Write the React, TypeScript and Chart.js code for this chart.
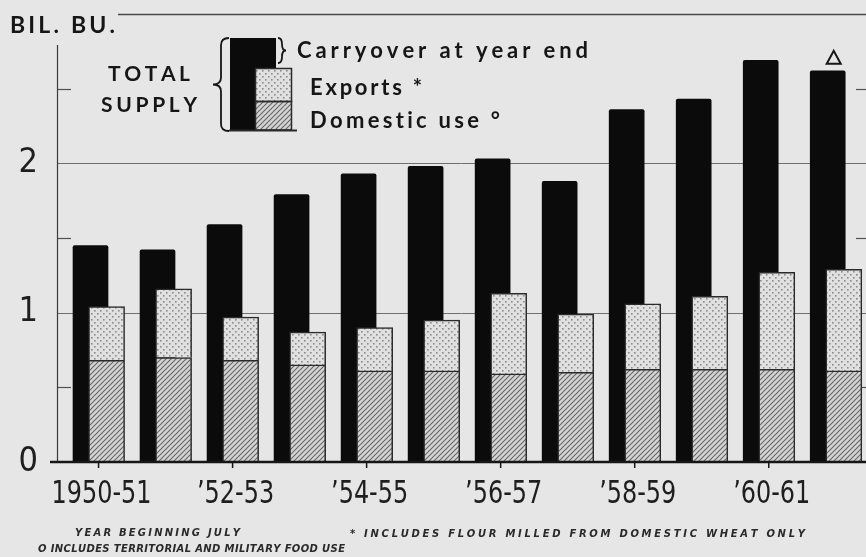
import React, { useEffect, useRef } from 'react';
import { Chart, registerables } from 'chart.js';

Chart.register(...registerables);

// ---- Data (billion bushels), year beginning July ----
const years = [
  '1950-51', '1951-52', '1952-53', '1953-54', '1954-55', '1955-56',
  '1956-57', '1957-58', '1958-59', '1959-60', '1960-61', '1961-62',
];
const totalSupply = [1.45, 1.42, 1.59, 1.79, 1.93, 1.98, 2.03, 1.88, 2.36, 2.43, 2.69, 2.62];
const domesticUse = [0.68, 0.70, 0.68, 0.65, 0.61, 0.61, 0.59, 0.60, 0.62, 0.62, 0.62, 0.61];
const exportsData = [0.36, 0.46, 0.29, 0.22, 0.29, 0.34, 0.54, 0.39, 0.44, 0.49, 0.65, 0.68];
const xTickLabels = ['1950-51', '\u201952-53', '\u201954-55', '\u201956-57', '\u201958-59', '\u201960-61'];
const xTickIndexes = [0, 2, 4, 6, 8, 10];
const yTickLabels = [0, 1, 2];
const gridValues = [1, 2];
const minorValues = [0.5, 1.5, 2.5];
const topValue = 3;

const INK = '#161616';
const BG = '#e6e6e6';
const COND = '"DejaVu Sans Condensed", "DejaVu Sans", sans-serif';

function makeDots(): CanvasPattern | string {
  const c = document.createElement('canvas');
  c.width = 6; c.height = 6;
  const g = c.getContext('2d');
  if (!g) return '#d8d8d8';
  g.fillStyle = '#e0e0e0';
  g.fillRect(0, 0, 6, 6);
  g.fillStyle = '#8c8c8c';
  g.fillRect(1, 1, 1.6, 1.6);
  g.fillRect(4, 4, 1.6, 1.6);
  return g.createPattern(c, 'repeat') || '#d8d8d8';
}

function makeHatch(): CanvasPattern | string {
  const s = 5;
  const c = document.createElement('canvas');
  c.width = s; c.height = s;
  const g = c.getContext('2d');
  if (!g) return '#b8b8b8';
  g.fillStyle = '#d4d4d4';
  g.fillRect(0, 0, s, s);
  g.strokeStyle = '#6a6a6a';
  g.lineWidth = 1.2;
  g.beginPath();
  g.moveTo(0, s); g.lineTo(s, 0);
  g.moveTo(-1, 1); g.lineTo(1, -1);
  g.moveTo(s - 1, s + 1); g.lineTo(s + 1, s - 1);
  g.stroke();
  return g.createPattern(c, 'repeat') || '#b8b8b8';
}

function spacedText(ctx: CanvasRenderingContext2D, text: string, x: number, y: number, width: number) {
  const chars = Array.from(text);
  const widths = chars.map((ch) => ctx.measureText(ch).width);
  const natural = widths.reduce((a, b) => a + b, 0);
  const gap = chars.length > 1 ? (width - natural) / (chars.length - 1) : 0;
  let cx = x;
  chars.forEach((ch, i) => {
    ctx.fillText(ch, cx, y);
    cx += widths[i] + gap;
  });
}

function brace(ctx: CanvasRenderingContext2D, tipX: number, endX: number, top: number, bottom: number) {
  const xm = (tipX + endX) / 2;
  const mid = (top + bottom) / 2;
  const r = Math.min(7, (bottom - top) / 4);
  ctx.beginPath();
  ctx.moveTo(endX, top);
  ctx.quadraticCurveTo(xm, top, xm, top + r);
  ctx.lineTo(xm, mid - r);
  ctx.quadraticCurveTo(xm, mid, tipX, mid);
  ctx.quadraticCurveTo(xm, mid, xm, mid + r);
  ctx.lineTo(xm, bottom - r);
  ctx.quadraticCurveTo(xm, bottom, endX, bottom);
  ctx.stroke();
}

const OFFSET = 0.12;
const RIGHT_EDGE = 866;

export default function App() {
  const ref = useRef<HTMLCanvasElement | null>(null);

  useEffect(() => {
    const canvas = ref.current;
    if (!canvas) return;
    const dots = makeDots();
    const hatch = makeHatch();

    const decor = {
      id: 'decor',
      beforeDatasetsDraw(chart: any) {
        const { ctx, chartArea, scales } = chart;
        const y = scales.y;
        const L = chartArea.left;
        ctx.save();
        ctx.strokeStyle = '#707070';
        ctx.lineWidth = 1;
        gridValues.forEach((v) => {
          const py = Math.round(y.getPixelForValue(v)) + 0.5;
          ctx.beginPath(); ctx.moveTo(L, py); ctx.lineTo(RIGHT_EDGE, py); ctx.stroke();
        });
        ctx.strokeStyle = '#4a4a4a';
        ctx.lineWidth = 1.5;
        const pt = y.getPixelForValue(topValue) + 0.5;
        ctx.beginPath(); ctx.moveTo(118, pt); ctx.lineTo(RIGHT_EDGE, pt); ctx.stroke();
        ctx.strokeStyle = '#505050';
        ctx.lineWidth = 1.2;
        minorValues.forEach((v) => {
          const py = Math.round(y.getPixelForValue(v)) + 0.5;
          ctx.beginPath(); ctx.moveTo(L, py); ctx.lineTo(L + 14, py); ctx.stroke();
          ctx.beginPath(); ctx.moveTo(RIGHT_EDGE - 10, py); ctx.lineTo(RIGHT_EDGE, py); ctx.stroke();
        });
        ctx.strokeStyle = '#3a3a3a';
        ctx.lineWidth = 1.2;
        ctx.beginPath(); ctx.moveTo(L + 0.5, 45); ctx.lineTo(L + 0.5, y.getPixelForValue(0)); ctx.stroke();
        ctx.restore();
      },
      afterDatasetsDraw(chart: any) {
        const { ctx, scales } = chart;
        const x = scales.x;
        const y = scales.y;
        const base = y.getPixelForValue(0);
        ctx.save();
        // baseline
        ctx.strokeStyle = INK;
        ctx.lineWidth = 2.5;
        ctx.beginPath(); ctx.moveTo(50, base); ctx.lineTo(RIGHT_EDGE, base); ctx.stroke();
        // bottom ticks at labelled years
        ctx.lineWidth = 1.5;
        xTickIndexes.forEach((i) => {
          const px = x.getPixelForValue(i);
          ctx.beginPath(); ctx.moveTo(px, base); ctx.lineTo(px, base + 6); ctx.stroke();
        });
        // x labels (condensed, positioned by the x scale)
        ctx.fillStyle = '#1e1e1e';
        ctx.font = '32px ' + COND;
        ctx.textAlign = 'center';
        ctx.textBaseline = 'alphabetic';
        const squeeze = Math.min(1, 100 / ctx.measureText(xTickLabels[0]).width);
        xTickIndexes.forEach((i, k) => {
          const px = x.getPixelForValue(i) + 3;
          ctx.save();
          ctx.translate(px, base + 41);
          ctx.scale(squeeze, 1);
          ctx.fillText(xTickLabels[k], 0, 0);
          ctx.restore();
        });
        ctx.textAlign = 'left';

        // triangle above last bar
        const last = totalSupply.length - 1;
        const tx = x.getPixelForValue(last - OFFSET) + 6;
        const ty = y.getPixelForValue(totalSupply[last]) - 7;
        ctx.strokeStyle = INK;
        ctx.lineWidth = 2;
        ctx.beginPath();
        ctx.moveTo(tx - 7, ty); ctx.lineTo(tx + 7, ty); ctx.lineTo(tx, ty - 13); ctx.closePath();
        ctx.stroke();

        // title
        ctx.fillStyle = INK;
        ctx.font = 'bold 23px Lato, "DejaVu Sans", sans-serif';
        spacedText(ctx, 'BIL. BU.', 10, 33, 105);

        // legend
        ctx.font = 'bold 21px Lato, "DejaVu Sans", sans-serif';
        spacedText(ctx, 'TOTAL', 108, 81, 82);
        spacedText(ctx, 'SUPPLY', 101, 112, 96);
        ctx.fillStyle = '#0b0b0b';
        ctx.fillRect(230, 38, 46, 92);
        ctx.fillStyle = dots as any;
        ctx.fillRect(255, 68, 37, 34);
        ctx.fillStyle = hatch as any;
        ctx.fillRect(255, 102, 37, 28);
        ctx.strokeStyle = '#2a2a2a';
        ctx.lineWidth = 1.5;
        ctx.strokeRect(255.5, 68.5, 36, 33);
        ctx.strokeRect(255.5, 101.5, 36, 28.5);
        ctx.lineWidth = 2;
        ctx.beginPath(); ctx.moveTo(229, 130.5); ctx.lineTo(297, 130.5); ctx.stroke();
        ctx.strokeStyle = INK;
        ctx.lineWidth = 1.8;
        brace(ctx, 213, 229, 38, 131);
        brace(ctx, 286, 278, 38, 63);
        ctx.fillStyle = INK;
        ctx.font = 'bold 22px Lato, "DejaVu Sans", sans-serif';
        spacedText(ctx, 'Carryover at year end', 297, 58, 291);
        spacedText(ctx, 'Exports *', 310, 95, 112);
        spacedText(ctx, 'Domestic use \u00b0', 310, 128, 190);

        // footnotes
        ctx.fillStyle = '#2a2a2a';
        ctx.font = 'italic bold 10px "DejaVu Sans", sans-serif';
        spacedText(ctx, 'YEAR BEGINNING JULY', 75, 536, 165);
        spacedText(ctx, '* INCLUDES FLOUR MILLED FROM DOMESTIC WHEAT ONLY', 350, 537, 455);
        spacedText(ctx, 'O INCLUDES TERRITORIAL AND MILITARY FOOD USE', 38, 552, 307);
        ctx.restore();
      },
    };

    const barCommon = { grouped: false, borderSkipped: 'start' as const };

    const chart = new Chart(canvas, {
      type: 'bar',
      data: {
        labels: years,
        datasets: [
          {
            ...barCommon,
            label: 'Domestic use',
            data: domesticUse.map((v, i) => ({ x: i + OFFSET, y: v })),
            backgroundColor: hatch as any,
            borderColor: '#2a2a2a',
            borderWidth: 1.5,
            barThickness: 36,
            stack: 'use',
            order: 0,
          },
          {
            ...barCommon,
            label: 'Exports',
            data: exportsData.map((v, i) => ({ x: i + OFFSET, y: v })),
            backgroundColor: dots as any,
            borderColor: '#2a2a2a',
            borderWidth: 1.5,
            barThickness: 36,
            stack: 'use',
            order: 0,
          },
          {
            ...barCommon,
            label: 'Total supply',
            data: totalSupply.map((v, i) => ({ x: i - OFFSET, y: v })),
            backgroundColor: '#0b0b0b',
            borderWidth: 0,
            borderRadius: 2,
            barThickness: 35,
            stack: 'total',
            order: 1,
          },
        ],
      } as any,
      options: {
        responsive: false,
        animation: false,
        events: [],
        layout: { padding: { top: 14, right: 0, left: 0, bottom: 0 } },
        plugins: { legend: { display: false }, tooltip: { enabled: false } },
        scales: {
          x: {
            type: 'linear',
            offset: false,
            min: -0.62,
            max: 11.66,
            stacked: true,
            grid: { display: false, drawTicks: false, offset: false },
            border: { display: false },
            afterFit: (s: any) => { s.height = 95; s.paddingLeft = 0; s.paddingRight = 0; },
            afterBuildTicks: (s: any) => { s.ticks = xTickIndexes.map((v) => ({ value: v })); },
            ticks: { display: false },
          },
          y: {
            type: 'linear',
            min: 0,
            max: topValue,
            stacked: true,
            grid: { display: false, drawTicks: false },
            border: { display: false },
            afterFit: (s: any) => { s.width = 57; s.paddingTop = 0; s.paddingBottom = 0; },
            ticks: {
              stepSize: 1,
              padding: 19,
              color: '#1e1e1e',
              font: { size: 34, family: COND },
              callback: (v: any) => (yTickLabels.includes(Number(v)) ? String(v) : ''),
            },
          },
        } as any,
      },
      plugins: [decor],
    });

    return () => chart.destroy();
  }, []);

  return (
    <div
      style={{
        position: 'fixed',
        left: 0,
        top: 0,
        width: 866,
        height: 557,
        overflow: 'hidden',
        background: BG,
      }}
    >
      <canvas ref={ref} width={880} height={557} style={{ display: 'block' }} />
    </div>
  );
}
